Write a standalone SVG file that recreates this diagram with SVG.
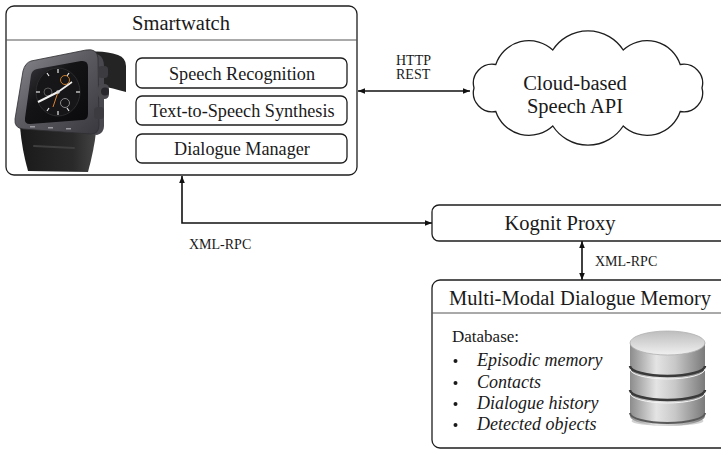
<svg xmlns="http://www.w3.org/2000/svg" width="721" height="450" viewBox="0 0 721 450">
  <defs>
    <style>
      .box { fill: #ffffff; stroke: #1e1e1e; stroke-width: 1.3; }
      .sep { stroke: #555555; stroke-width: 1; }
      .t { font-family: "Liberation Serif", "DejaVu Serif", serif; fill: #1a1a1a; }
      .title { font-size: 20.5px; text-anchor: middle; }
      .mod { font-size: 18.2px; text-anchor: middle; }
      .lbl { font-size: 14px; }
      .item { font-size: 18px; font-style: italic; }
      .conn { fill: none; stroke: #111111; stroke-width: 1.6; marker-start: url(#ah); marker-end: url(#ah); }
    </style>
    <marker id="ah" viewBox="0 0 10 8" refX="10" refY="4" markerWidth="7" markerHeight="6" markerUnits="userSpaceOnUse" orient="auto-start-reverse">
      <path d="M0,0 L10,4 L0,8 Z" fill="#111111"/>
    </marker>
    <linearGradient id="caseGrad" x1="0" y1="0" x2="1" y2="1">
      <stop offset="0" stop-color="#8a8a90"/>
      <stop offset="0.45" stop-color="#5c5c62"/>
      <stop offset="1" stop-color="#38383e"/>
    </linearGradient>
    <linearGradient id="strapGrad" x1="0" y1="0" x2="1" y2="0">
      <stop offset="0" stop-color="#1a1a1a"/>
      <stop offset="0.7" stop-color="#2a2a2a"/>
      <stop offset="1" stop-color="#444444"/>
    </linearGradient>
    <linearGradient id="glass" x1="0" y1="0" x2="1" y2="1">
      <stop offset="0" stop-color="#3a3a40"/>
      <stop offset="0.4" stop-color="#141416"/>
      <stop offset="1" stop-color="#0a0a0c"/>
    </linearGradient>
    <linearGradient id="dbBody" x1="0" y1="0" x2="1" y2="0">
      <stop offset="0" stop-color="#8c8c8c"/>
      <stop offset="0.35" stop-color="#e4e4e4"/>
      <stop offset="0.6" stop-color="#c8c8c8"/>
      <stop offset="1" stop-color="#7a7a7a"/>
    </linearGradient>
    <linearGradient id="dbTop" x1="0" y1="0" x2="0" y2="1">
      <stop offset="0" stop-color="#bdbdbd"/>
      <stop offset="1" stop-color="#f0f0f0"/>
    </linearGradient>
  </defs>

  <!-- connectors -->
  <g id="connectors">
    <line class="conn" x1="358" y1="91" x2="470" y2="91"/>
    <path class="conn" d="M182,176 L182,223 L432,223"/>
    <line class="conn" x1="582" y1="241" x2="582" y2="280"/>
    <text class="t lbl" x="396" y="65">HTTP</text>
    <text class="t lbl" x="396" y="79">REST</text>
    <text class="t lbl" x="189" y="249">XML-RPC</text>
    <text class="t lbl" x="595" y="266">XML-RPC</text>
  </g>

  <!-- smartwatch node -->
  <g id="smartwatch">
    <rect class="box" x="6" y="6" width="351" height="169" rx="8"/>
    <line class="sep" x1="6" y1="40" x2="357" y2="40"/>
    <text class="t title" x="181" y="30">Smartwatch</text>

    <!-- watch picture -->
    <g id="watch-picture">
      <path d="M88,52 Q104,50 118,55 Q126,58 126,66 L126,92 Q112,88 102,86 Z" fill="#242424"/>
      <path d="M20,127 L96,132 Q94,150 88,172 L28,171 Q22,150 20,127 Z" fill="url(#strapGrad)"/>
      <path d="M34,146 L74,148" stroke="#3e3e3e" stroke-width="2" stroke-linecap="round"/>
      <path d="M86,50 L99,55 Q104,58 104,66 L104,126 Q104,133 97,135 L90,134 Z" fill="#48484e"/>
      <path d="M31,61 L86,50 Q97,48 98,58 L99,125 Q99,134 91,134 L23,129 Q14,128 15,119 L23,71 Q25,63 31,61 Z" fill="url(#caseGrad)" stroke="#2e2e32" stroke-width="0.8"/>
      <path d="M37,69 L81,61 Q88,60 88,67 L88,114 Q88,120 82,120 L30,124 Q24,124 25,118 L31,75 Q32,70 37,69 Z" fill="url(#glass)"/>
      <ellipse cx="58" cy="92" rx="22" ry="24" fill="#161618" stroke="#2c2c2e" stroke-width="1"/>
      <g stroke="#e8e8e8" stroke-width="1.2">
        <line x1="58" y1="69" x2="58" y2="73"/>
        <line x1="58" y1="111" x2="58" y2="115"/>
        <line x1="36" y1="92" x2="40" y2="92"/>
        <line x1="76" y1="92" x2="80" y2="92"/>
        <line x1="47" y1="73" x2="49" y2="76"/>
        <line x1="69" y1="73" x2="67" y2="76"/>
        <line x1="47" y1="111" x2="49" y2="108"/>
        <line x1="69" y1="111" x2="67" y2="108"/>
      </g>
      <circle cx="65" cy="80" r="4.5" fill="none" stroke="#c77a2a" stroke-width="1"/>
      <circle cx="65" cy="103" r="4.5" fill="none" stroke="#8a8a8a" stroke-width="1"/>
      <circle cx="48" cy="92" r="4" fill="none" stroke="#6a6a6a" stroke-width="0.8"/>
      <line x1="58" y1="92" x2="38" y2="102" stroke="#f2f2f2" stroke-width="2"/>
      <line x1="58" y1="92" x2="72" y2="82" stroke="#f2f2f2" stroke-width="1.6"/>
      <line x1="58" y1="92" x2="53" y2="107" stroke="#d9822b" stroke-width="1"/>
      <circle cx="58" cy="92" r="1.8" fill="#dddddd"/>
      <rect x="98" y="66" width="10" height="12" rx="3.5" fill="#3c3c40"/>
      <rect x="98" y="84" width="11" height="15" rx="4.5" fill="#4a4a4e"/>
      <circle cx="105" cy="91.5" r="4" fill="#28282c"/>
      <rect x="94" y="107" width="10" height="12" rx="3.5" fill="#3c3c40"/>
      <g fill="#9a9aa0">
        <rect x="30" y="126" width="5" height="1.5"/>
        <rect x="48" y="127" width="5" height="1.5"/>
        <rect x="66" y="128" width="5" height="1.5"/>
      </g>
    </g>

    <rect class="box" x="136" y="58" width="211" height="30" rx="6"/>
    <text class="t mod" x="242" y="80">Speech Recognition</text>
    <rect class="box" x="136" y="96" width="211" height="29" rx="6"/>
    <text class="t mod" x="242" y="117">Text-to-Speech Synthesis</text>
    <rect class="box" x="136" y="134" width="211" height="29" rx="6"/>
    <text class="t mod" x="242" y="155">Dialogue Manager</text>
  </g>

  <!-- cloud speech service -->
  <g id="cloud">
    <path class="box" d="M702,88 A19,19 0 0 1 680.2,111.5 A35,35 0 0 1 623.2,126 A42,42 0 0 1 552.8,126 A35,35 0 0 1 495.8,111.5 A19,19 0 0 1 474,88 A19,19 0 0 1 495.8,64.5 A35,35 0 0 1 552.8,50 A42,42 0 0 1 623.2,50 A35,35 0 0 1 680.2,64.5 A19,19 0 0 1 702,88 Z"/>
    <text class="t title" x="575" y="90">Cloud-based</text>
    <text class="t title" x="575" y="113">Speech API</text>
  </g>

  <!-- proxy node -->
  <g id="kognit-proxy">
    <rect class="box" x="432" y="205" width="300" height="36" rx="7"/>
    <text class="t title" x="560" y="230">Kognit Proxy</text>
  </g>

  <!-- dialogue memory node -->
  <g id="dialogue-memory">
    <rect class="box" x="432" y="280" width="300" height="168" rx="8"/>
    <line class="sep" x1="432" y1="313" x2="721" y2="313"/>
    <text class="t title" x="580" y="305">Multi-Modal Dialogue Memory</text>
    <text class="t" x="452" y="342" font-size="17px">Database:</text>
    <g fill="#1a1a1a">
      <circle cx="455.5" cy="361" r="2"/>
      <circle cx="455.5" cy="383" r="2"/>
      <circle cx="455.5" cy="404" r="2"/>
      <circle cx="455.5" cy="425" r="2"/>
    </g>
    <text class="t item" x="477" y="366">Episodic memory</text>
    <text class="t item" x="477" y="388">Contacts</text>
    <text class="t item" x="477" y="409">Dialogue history</text>
    <text class="t item" x="477" y="430">Detected objects</text>

    <!-- database cylinder -->
    <g id="db-icon">
      <ellipse cx="667.5" cy="421" rx="36" ry="5" fill="#000000" opacity="0.18"/>
      <path d="M630,343 L630,416 A37.5,10 0 0 0 705,416 L705,343 Z" fill="url(#dbBody)"/>
      <path d="M630,366 A37.5,10 0 0 0 705,366" fill="none" stroke="#3a3a3a" stroke-width="2.5"/>
      <path d="M630,369 A37.5,10 0 0 0 705,369" fill="none" stroke="#f4f4f4" stroke-width="1"/>
      <path d="M630,390 A37.5,10 0 0 0 705,390" fill="none" stroke="#3a3a3a" stroke-width="2.5"/>
      <path d="M630,393 A37.5,10 0 0 0 705,393" fill="none" stroke="#f4f4f4" stroke-width="1"/>
      <path d="M630,413 A37.5,10 0 0 0 705,413" fill="none" stroke="#5a5a5a" stroke-width="2"/>
      <ellipse cx="667.5" cy="343" rx="37.5" ry="12" fill="url(#dbTop)" stroke="#b0b0b0" stroke-width="0.8"/>
    </g>
  </g>
</svg>
